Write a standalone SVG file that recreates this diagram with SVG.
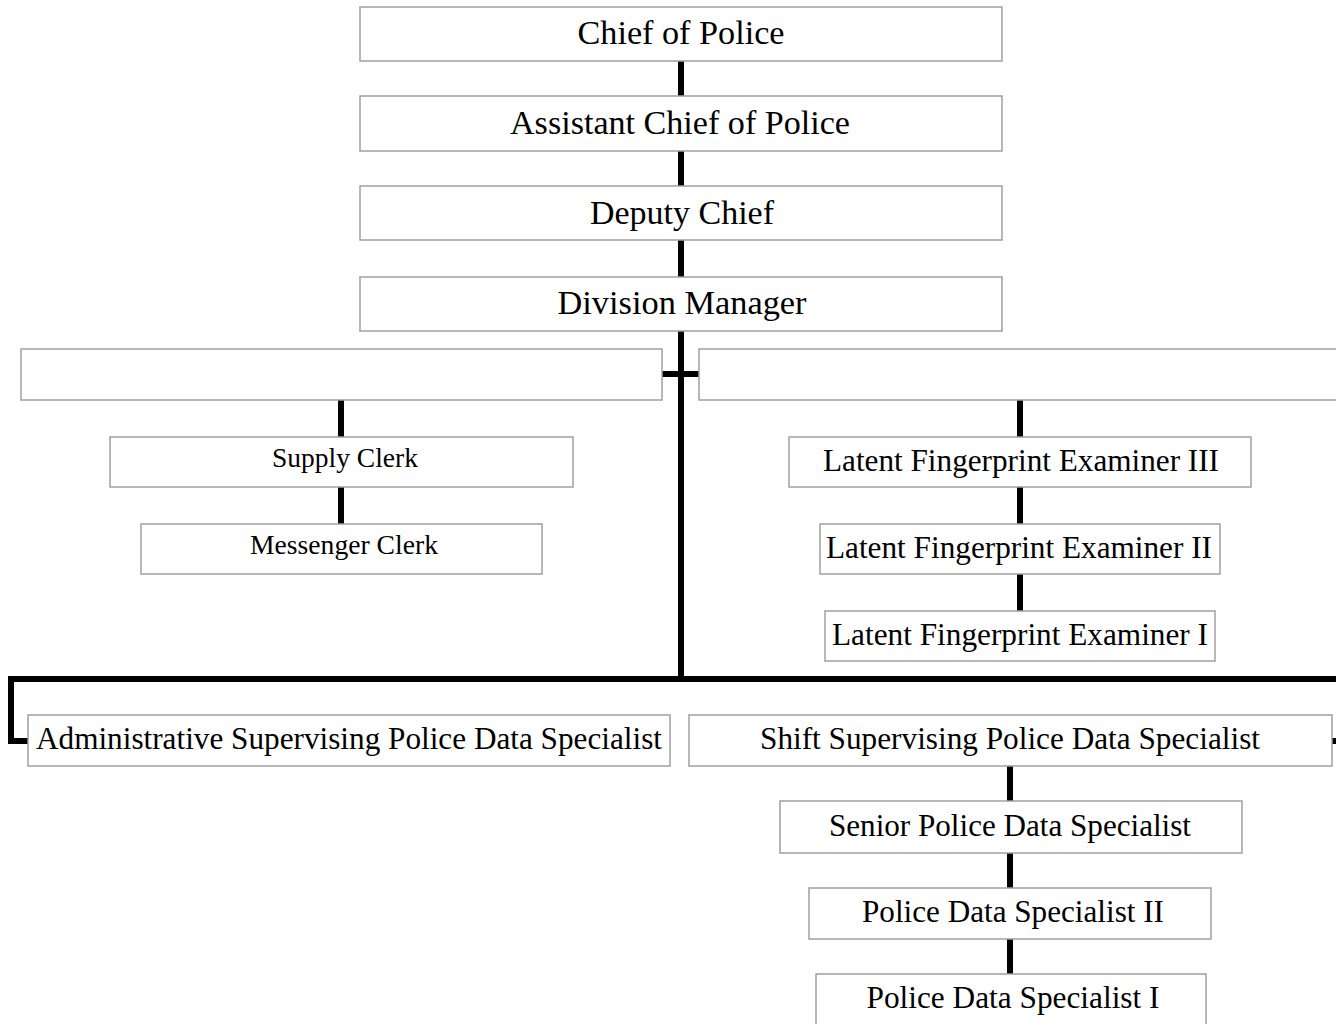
<svg xmlns="http://www.w3.org/2000/svg" width="1336" height="1024" viewBox="0 0 1336 1024">
<style>
.box{fill:#fff;stroke:#a0a0a0;stroke-width:1.5}
.t{font-family:"Liberation Serif","Times New Roman",serif;fill:#000;text-anchor:middle}
.l{font-size:33px}
.m{font-size:31px}
.s{font-size:28px}
.c{stroke:#000;stroke-width:6;fill:none}
</style>
<rect width="1336" height="1024" fill="#fff"/>
<g id="connectors">
<line class="c" x1="681" y1="61" x2="681" y2="96"/>
<line class="c" x1="681" y1="151" x2="681" y2="186"/>
<line class="c" x1="681" y1="240" x2="681" y2="277"/>
<line class="c" x1="681" y1="331" x2="681" y2="682"/>
<line class="c" x1="662" y1="374" x2="699" y2="374"/>
<line class="c" x1="341" y1="400" x2="341" y2="437"/>
<line class="c" x1="341" y1="487" x2="341" y2="524"/>
<line class="c" x1="1020" y1="400" x2="1020" y2="437"/>
<line class="c" x1="1020" y1="487" x2="1020" y2="524"/>
<line class="c" x1="1020" y1="574" x2="1020" y2="611"/>
<path class="c" d="M1340 679 H11 V741 H28"/>
<line class="c" x1="1332" y1="741" x2="1340" y2="741"/>
<line class="c" x1="1010" y1="766" x2="1010" y2="801"/>
<line class="c" x1="1010" y1="853" x2="1010" y2="888"/>
<line class="c" x1="1010" y1="939" x2="1010" y2="974"/>
</g>
<g id="chief"><rect class="box" x="360" y="7" width="642" height="54"/><text class="t l" x="681" y="44" textLength="207" lengthAdjust="spacingAndGlyphs">Chief of Police</text></g>
<g id="assistant"><rect class="box" x="360" y="96" width="642" height="55"/><text class="t l" x="680" y="134" textLength="340" lengthAdjust="spacingAndGlyphs">Assistant Chief of Police</text></g>
<g id="deputy"><rect class="box" x="360" y="186" width="642" height="54"/><text class="t l" x="682" y="224" textLength="184" lengthAdjust="spacingAndGlyphs">Deputy Chief</text></g>
<g id="division"><rect class="box" x="360" y="277" width="642" height="54"/><text class="t l" x="682" y="314" textLength="249" lengthAdjust="spacingAndGlyphs">Division Manager</text></g>
<g id="leftunit"><rect class="box" x="21" y="349" width="641" height="51"/></g>
<g id="rightunit"><rect class="box" x="699" y="349" width="645" height="51"/></g>
<g id="supply"><rect class="box" x="110" y="437" width="463" height="50"/><text class="t s" x="345" y="467" textLength="146" lengthAdjust="spacingAndGlyphs">Supply Clerk</text></g>
<g id="messenger"><rect class="box" x="141" y="524" width="401" height="50"/><text class="t s" x="344" y="554" textLength="188" lengthAdjust="spacingAndGlyphs">Messenger Clerk</text></g>
<g id="lfe3"><rect class="box" x="789" y="437" width="462" height="50"/><text class="t m" x="1021" y="471" textLength="396" lengthAdjust="spacingAndGlyphs">Latent Fingerprint Examiner III</text></g>
<g id="lfe2"><rect class="box" x="820" y="524" width="400" height="50"/><text class="t m" x="1019" y="558" textLength="386" lengthAdjust="spacingAndGlyphs">Latent Fingerprint Examiner II</text></g>
<g id="lfe1"><rect class="box" x="825" y="611" width="390" height="50"/><text class="t m" x="1020" y="645" textLength="376" lengthAdjust="spacingAndGlyphs">Latent Fingerprint Examiner I</text></g>
<g id="admin"><rect class="box" x="28" y="715" width="642" height="51"/><text class="t m" x="349" y="749" textLength="626" lengthAdjust="spacingAndGlyphs">Administrative Supervising Police Data Specialist</text></g>
<g id="shift"><rect class="box" x="689" y="715" width="643" height="51"/><text class="t m" x="1010" y="749" textLength="500" lengthAdjust="spacingAndGlyphs">Shift Supervising Police Data Specialist</text></g>
<g id="senior"><rect class="box" x="780" y="801" width="462" height="52"/><text class="t m" x="1010" y="836" textLength="362" lengthAdjust="spacingAndGlyphs">Senior Police Data Specialist</text></g>
<g id="pds2"><rect class="box" x="809" y="888" width="402" height="51"/><text class="t m" x="1013" y="922" textLength="302" lengthAdjust="spacingAndGlyphs">Police Data Specialist II</text></g>
<g id="pds1"><rect class="box" x="816" y="974" width="390" height="60"/><text class="t m" x="1013" y="1008" textLength="293" lengthAdjust="spacingAndGlyphs">Police Data Specialist I</text></g>
</svg>
